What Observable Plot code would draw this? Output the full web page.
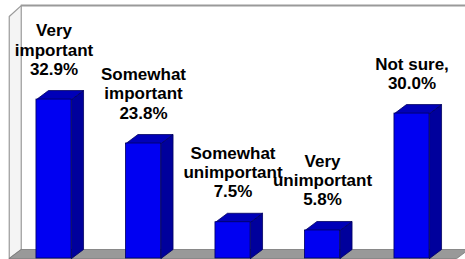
<!DOCTYPE html>
<html><head><meta charset="utf-8">
<script src="https://cdn.jsdelivr.net/npm/d3@7"></script>
<script src="https://cdn.jsdelivr.net/npm/@observablehq/plot@0.6"></script>
<style>body{margin:0;background:#fff;} #chart svg{display:block;}</style>
</head><body><div id="chart"></div>
<script>
const categories = ["Very important", "Somewhat important", "Somewhat unimportant", "Very unimportant", "Not sure"];
const labelLines = ["Very\nimportant", "Somewhat\nimportant", "Somewhat\nunimportant", "Very\nunimportant", "Not sure,"];
const values = [32.9, 23.8, 7.5, 5.8, 30.0];

// 3D geometry in data units (half bar width, depth offset x/y, wall height)
const HALF = 0.196, DX = 0.134, DY = 1.86;
const X0 = -0.5, X1 = 4.5, WALL_TOP = 52.35, WALL_FRONT_TOP = 50.1;

const bars = values.map((v, i) => ({i, v, cat: categories[i], label: labelLines[i] + "\n" + v.toFixed(1) + "%"}));
const poly = (pts, key) => [...pts, pts[0]].map(([x, y]) => ({x, y, key}));

const sideFaces = bars.flatMap(b => poly([[b.i + HALF, 0], [b.i + HALF, b.v], [b.i + HALF + DX, b.v + DY], [b.i + HALF + DX, DY]], b.cat));
const topFaces = bars.flatMap(b => poly([[b.i - HALF, b.v], [b.i + HALF, b.v], [b.i + HALF + DX, b.v + DY], [b.i - HALF + DX, b.v + DY]], b.cat));
const floor = poly([[X0, 0], [X0 + DX, DY], [X1 + DX, DY], [X1, 0]], "floor");
const leftWall = poly([[X0, 0], [X0, WALL_FRONT_TOP], [X0 + DX, WALL_TOP], [X0 + DX, DY]], "wall");

const chart = Plot.plot({
  width: 465, height: 259,
  marginLeft: 8.75, marginRight: 8.75, marginTop: 0, marginBottom: 1,
  x: {domain: [X0, X1], axis: null},
  y: {domain: [0, 53.4], axis: null},
  style: {background: "#fff", fontFamily: "'Liberation Sans', Arial, sans-serif"},
  marks: [
    Plot.line(leftWall, {x: "x", y: "y", z: "key", fill: "#f4f4f4", stroke: "#9a9a9a", strokeWidth: 1.2}),
    Plot.ruleY([WALL_TOP], {x1: X0 + DX, x2: X1 + DX, stroke: "#9a9a9a", strokeWidth: 2}),
    Plot.line(floor, {x: "x", y: "y", z: "key", fill: "#999999", stroke: "#777", strokeWidth: 0.8}),
    Plot.line(sideFaces, {x: "x", y: "y", z: "key", fill: "#00009c", stroke: "#000060", strokeWidth: 0.8}),
    Plot.line(topFaces, {x: "x", y: "y", z: "key", fill: "#0000b8", stroke: "#000060", strokeWidth: 0.8}),
    Plot.rect(bars, {x1: d => d.i - HALF, x2: d => d.i + HALF, y1: d => 0, y2: "v", fill: "#0000f2", stroke: "#000060", strokeWidth: 0.8}),
    Plot.text(bars, {x: "i", y: "v", text: "label", lineAnchor: "bottom", dy: -25, lineHeight: 1.12,
      fontSize: 17, fontWeight: "bold", fill: "#000", textAnchor: "middle"})
  ]
});
document.getElementById("chart").append(chart);
</script>
</body></html>
